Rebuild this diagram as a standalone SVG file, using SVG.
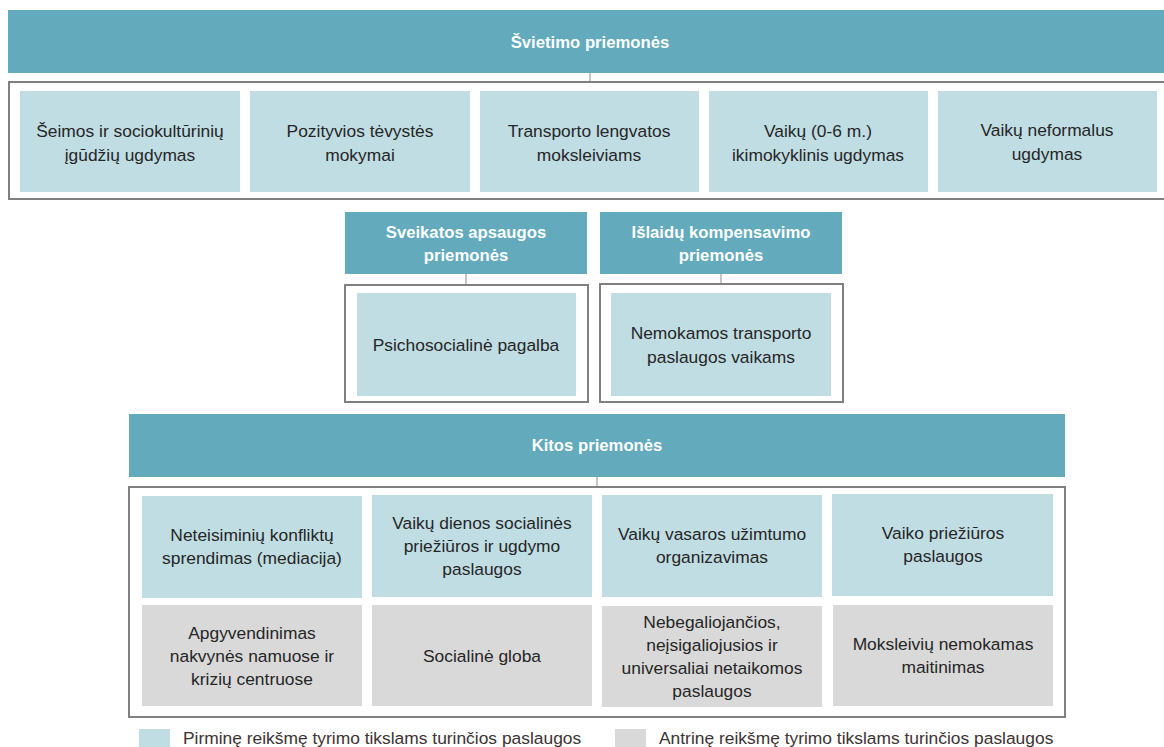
<svg xmlns="http://www.w3.org/2000/svg" width="1164" height="747" viewBox="0 0 1164 747">
  <style>
    .hdr { fill: #62aabc; }
    .frame { fill: #ffffff; stroke: #808080; stroke-width: 2; }
    .pri { fill: #c0dde4; }
    .sec { fill: #d9d9d9; }
    .conn { stroke: #8c8c8c; stroke-width: 1; fill: none; }
    text { font-family: "Liberation Sans", Arial, sans-serif; text-anchor: middle; }
    .ht { font-size: 16.7px; font-weight: bold; fill: #ffffff; }
    .bt { font-size: 17.4px; fill: #262626; }
    .lt { font-size: 17.4px; fill: #3d3333; text-anchor: start; }
  </style>

  <!-- connectors between headers and frames -->
  <g id="connectors">
    <line class="conn" x1="590" y1="73" x2="590" y2="82"/>
    <line class="conn" x1="466" y1="274" x2="466" y2="285"/>
    <line class="conn" x1="721" y1="274" x2="721" y2="284"/>
    <line class="conn" x1="597" y1="477" x2="597" y2="487"/>
  </g>

  <!-- Education measures -->
  <g id="svietimo">
    <rect class="hdr" x="8" y="10" width="1160" height="63"/>
    <text class="ht" x="590" y="48">Švietimo priemonės</text>
  </g>
  <g id="svietimo-frame">
    <rect class="frame" x="9" y="82" width="1162" height="117"/>
  </g>
  <g id="s1">
    <rect class="pri" x="20" y="91" width="220" height="101"/>
    <text class="bt" x="130" y="137">Šeimos ir sociokultūrinių</text>
    <text class="bt" x="130" y="161">įgūdžių ugdymas</text>
  </g>
  <g id="s2">
    <rect class="pri" x="250" y="91" width="220" height="101"/>
    <text class="bt" x="360" y="137">Pozityvios tėvystės</text>
    <text class="bt" x="360" y="161">mokymai</text>
  </g>
  <g id="s3">
    <rect class="pri" x="480" y="91" width="219" height="101"/>
    <text class="bt" x="589" y="137">Transporto lengvatos</text>
    <text class="bt" x="589" y="161">moksleiviams</text>
  </g>
  <g id="s4">
    <rect class="pri" x="709" y="91" width="219" height="101"/>
    <text class="bt" x="818" y="137">Vaikų (0-6 m.)</text>
    <text class="bt" x="818" y="161">ikimokyklinis  ugdymas</text>
  </g>
  <g id="s5">
    <rect class="pri" x="938" y="91" width="219" height="101"/>
    <text class="bt" x="1047" y="136">Vaikų neformalus</text>
    <text class="bt" x="1047" y="160">ugdymas</text>
  </g>

  <!-- Health measures -->
  <g id="sveikatos">
    <rect class="hdr" x="345" y="212" width="242" height="62"/>
    <text class="ht" x="466" y="238">Sveikatos apsaugos</text>
    <text class="ht" x="466" y="261">priemonės</text>
  </g>
  <g id="sveikatos-frame">
    <rect class="frame" x="345" y="285" width="243" height="117"/>
  </g>
  <g id="psich">
    <rect class="pri" x="357" y="293" width="219" height="103"/>
    <text class="bt" x="466" y="351">Psichosocialinė pagalba</text>
  </g>

  <!-- Cost compensation measures -->
  <g id="islaidu">
    <rect class="hdr" x="600" y="212" width="242" height="62"/>
    <text class="ht" x="721" y="238">Išlaidų kompensavimo</text>
    <text class="ht" x="721" y="261">priemonės</text>
  </g>
  <g id="islaidu-frame">
    <rect class="frame" x="600" y="284" width="243" height="118"/>
  </g>
  <g id="transportas">
    <rect class="pri" x="611" y="293" width="220" height="103"/>
    <text class="bt" x="721" y="339">Nemokamos transporto</text>
    <text class="bt" x="721" y="363">paslaugos vaikams</text>
  </g>

  <!-- Other measures -->
  <g id="kitos">
    <rect class="hdr" x="129" y="414" width="936" height="63"/>
    <text class="ht" x="597" y="451">Kitos priemonės</text>
  </g>
  <g id="kitos-frame">
    <rect class="frame" x="129" y="487" width="936" height="230"/>
  </g>
  <g id="k1">
    <rect class="pri" x="142" y="496" width="220" height="102"/>
    <text class="bt" x="252" y="541">Neteisiminių konfliktų</text>
    <text class="bt" x="252" y="564">sprendimas (mediacija)</text>
  </g>
  <g id="k2">
    <rect class="pri" x="372" y="495" width="220" height="102"/>
    <text class="bt" x="482" y="529">Vaikų dienos socialinės</text>
    <text class="bt" x="482" y="552">priežiūros ir ugdymo</text>
    <text class="bt" x="482" y="575">paslaugos</text>
  </g>
  <g id="k3">
    <rect class="pri" x="602" y="495" width="220" height="102"/>
    <text class="bt" x="712" y="540">Vaikų vasaros užimtumo</text>
    <text class="bt" x="712" y="563">organizavimas</text>
  </g>
  <g id="k4">
    <rect class="pri" x="832" y="494" width="221" height="102"/>
    <text class="bt" x="943" y="539">Vaiko priežiūros</text>
    <text class="bt" x="943" y="562">paslaugos</text>
  </g>
  <g id="k5">
    <rect class="sec" x="142" y="605" width="220" height="101"/>
    <text class="bt" x="252" y="639">Apgyvendinimas</text>
    <text class="bt" x="252" y="662">nakvynės  namuose ir</text>
    <text class="bt" x="252" y="685">krizių centruose</text>
  </g>
  <g id="k6">
    <rect class="sec" x="372" y="605" width="220" height="101"/>
    <text class="bt" x="482" y="662">Socialinė globa</text>
  </g>
  <g id="k7">
    <rect class="sec" x="602" y="606" width="220" height="101"/>
    <text class="bt" x="712" y="628">Nebegaliojančios,</text>
    <text class="bt" x="712" y="651">neįsigaliojusios ir</text>
    <text class="bt" x="712" y="674">universaliai  netaikomos</text>
    <text class="bt" x="712" y="697">paslaugos</text>
  </g>
  <g id="k8">
    <rect class="sec" x="833" y="605" width="220" height="101"/>
    <text class="bt" x="943" y="650">Moksleivių nemokamas</text>
    <text class="bt" x="943" y="673">maitinimas</text>
  </g>

  <!-- Legend -->
  <g id="legend">
    <rect class="pri" x="139" y="729" width="31" height="20"/>
    <text class="lt" x="183" y="744">Pirminę reikšmę tyrimo tikslams turinčios paslaugos</text>
    <rect class="sec" x="615" y="729" width="31" height="20"/>
    <text class="lt" x="659" y="744">Antrinę reikšmę tyrimo tikslams turinčios paslaugos</text>
  </g>
</svg>
